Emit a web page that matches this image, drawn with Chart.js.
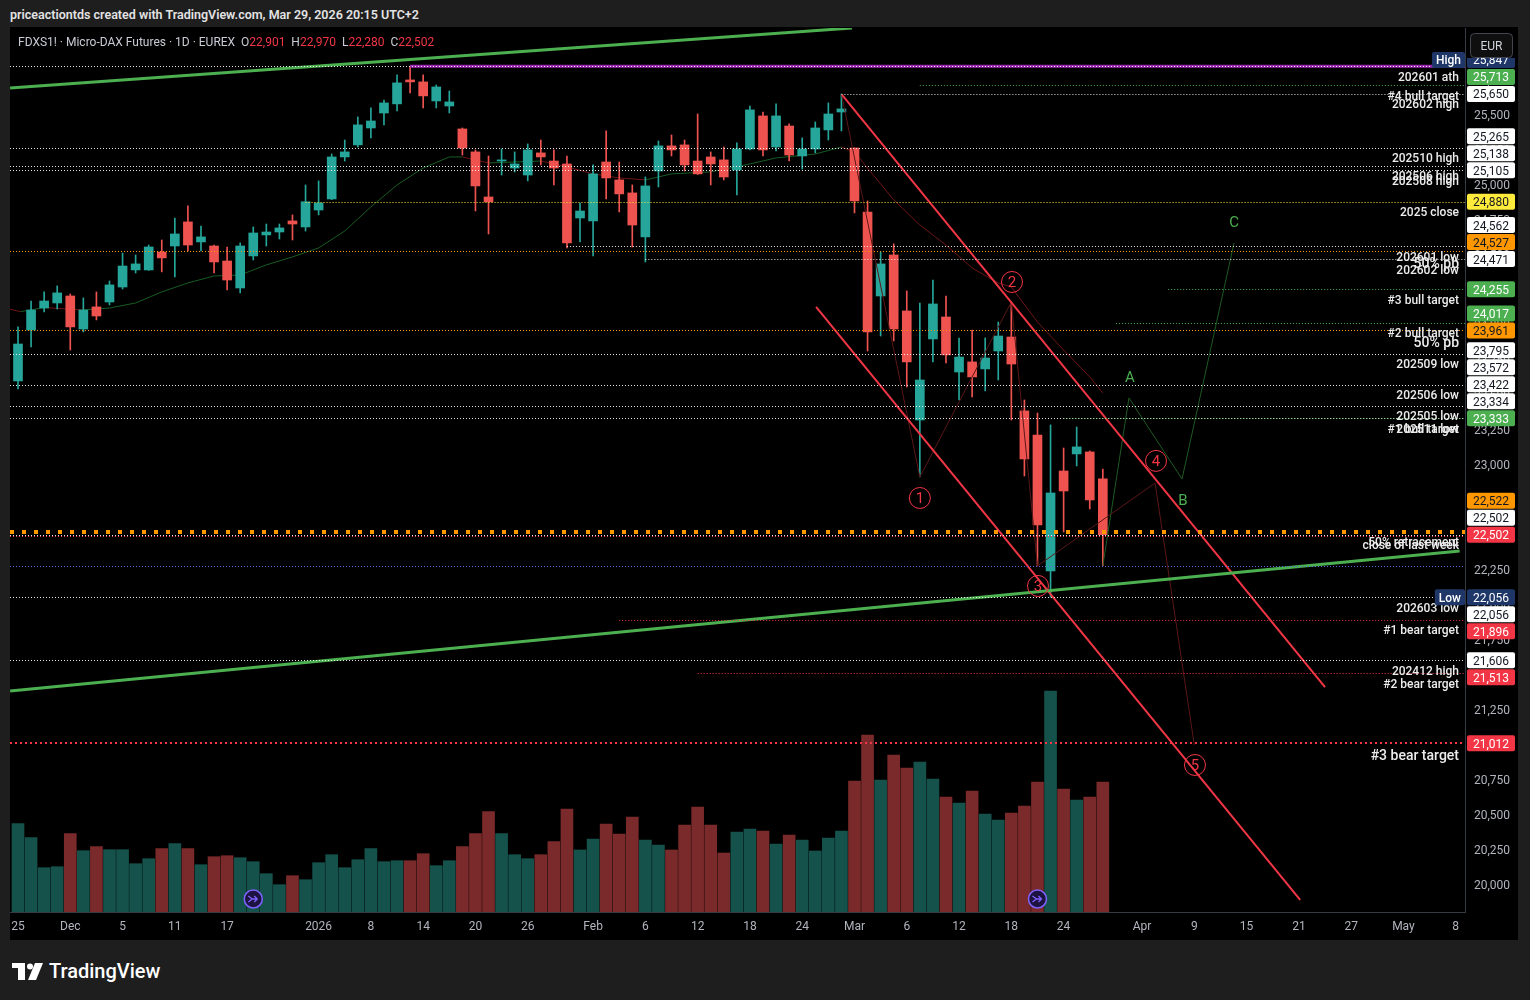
<!DOCTYPE html>
<html lang="en">
<head>
<meta charset="UTF-8">
<title>FDXS1! Micro-DAX Futures 1D</title>
<script src="https://cdn.jsdelivr.net/npm/chart.js"></script>
<style>
  html, body { margin: 0; padding: 0; width: 1530px; height: 1000px; overflow: hidden; background: #1e1e1e; font-family: Roboto, "Noto Sans", sans-serif; }
  #top { position: absolute; left: 10px; top: 7px; color: #e3e3e3; font-size: 12.5px; font-weight: 600; }
  #wrap { position: absolute; left: 10px; top: 27px; width: 1508px; height: 913px; background: #000; }
  #foot { position: absolute; left: 12px; top: 959px; display: flex; align-items: center; color: #fff; font-size: 20px; font-weight: 500; }
  #foot svg { margin-right: 6px; }
</style>
</head>
<body>
<div id="top">priceactiontds created with TradingView.com, Mar 29, 2026 20:15 UTC+2</div>
<div id="wrap"><canvas id="chart" width="1508" height="913"></canvas></div>
<div id="foot">
  <svg width="31" height="17" viewBox="0 0 31 17"><rect x="0" y="0" width="13" height="5" fill="#fff"/><rect x="6" y="0" width="7" height="17" fill="#fff"/><circle cx="18" cy="3.5" r="3" fill="#fff"/><polygon points="23,0 31,0 24,17 16,17" fill="#fff"/></svg>
  <span>TradingView</span>
</div>

<script>
// daily candles, index 0 = 2025-11-25 ... index 83 = 2026-03-27
const opens = [23600, 23964, 24121, 24157, 24207, 23971, 24129, 24164, 24271, 24393,
  24393, 24521, 24564, 24736, 24593, 24564, 24457, 24264, 24493, 24643,
  24664, 24743, 24700, 24821, 24900, 25200, 25286, 25407, 25514, 25579,
  25750, 25736, 25600, 25564, 25400, 25236, 24914, 25171, 25121, 25071,
  25229, 25171, 25150, 24764, 24743, 25164, 25036, 24943, 24629, 25100,
  25279, 25286, 25171, 25200, 25179, 25107, 25257, 25493, 25271, 25421,
  25207, 25257, 25393, 25521, 25264, 24807, 24207, 24500, 24100, 23321,
  23900, 24057, 23664, 23736, 23686, 23814, 23914, 23386, 23214, 22243,
  22957, 23079, 23093, 22901];
const highs = [23986, 24171, 24236, 24279, 24221, 24193, 24236, 24314, 24514, 24500,
  24571, 24607, 24764, 24850, 24707, 24571, 24557, 24586, 24700, 24721,
  24721, 24786, 25000, 25029, 25221, 25321, 25486, 25550, 25607, 25786,
  25847, 25786, 25714, 25671, 25407, 25250, 25207, 25257, 25236, 25293,
  25321, 25250, 25207, 24871, 25143, 25386, 25164, 25000, 25057, 25314,
  25357, 25321, 25507, 25236, 25271, 25300, 25564, 25521, 25579, 25436,
  25336, 25450, 25586, 25650, 25264, 24886, 24521, 24579, 24243, 24157,
  24321, 24207, 23907, 23964, 23907, 24021, 24164, 23464, 23371, 23286,
  23121, 23271, 23100, 22970];
const lows = [23543, 23843, 24093, 24114, 23821, 23950, 24036, 24143, 24257, 24371,
  24390, 24379, 24343, 24529, 24529, 24371, 24250, 24229, 24464, 24564,
  24614, 24607, 24671, 24786, 24895, 25171, 25271, 25336, 25429, 25529,
  25657, 25550, 25550, 25514, 25214, 24814, 24650, 25071, 25093, 25029,
  25143, 25000, 24550, 24593, 24493, 24900, 24807, 24557, 24450, 24986,
  25207, 25100, 25075, 25000, 25036, 24929, 25250, 25207, 25243, 25171,
  25114, 25229, 25321, 25386, 24800, 23814, 23921, 23886, 23557, 22914,
  23736, 23729, 23464, 23486, 23529, 23607, 23321, 22921, 22279, 22056,
  22521, 22993, 22686, 22280];
const closes = [23864, 24107, 24171, 24229, 23986, 24107, 24064, 24286, 24421, 24436,
  24557, 24479, 24650, 24571, 24629, 24450, 24321, 24564, 24657, 24664,
  24693, 24721, 24880, 24871, 25200, 25236, 25429, 25457, 25586, 25729,
  25736, 25636, 25700, 25593, 25264, 24993, 24879, 25179, 25150, 25250,
  25200, 25121, 24586, 24814, 25079, 25050, 24936, 24714, 24993, 25279,
  25250, 25143, 25079, 25150, 25057, 25257, 25536, 25250, 25493, 25214,
  25257, 25407, 25507, 25543, 24886, 23950, 24436, 23971, 23736, 23607,
  24150, 23786, 23771, 23629, 23764, 23921, 23721, 23043, 22571, 22800,
  22814, 23129, 22750, 22502];
const volumes = [8830, 7430, 4430, 4530, 7830, 6130, 6530, 6230, 6230, 4830,
  5330, 6330, 6830, 6330, 4730, 5530, 5630, 5430, 5030, 3830,
  2730, 3630, 3230, 4930, 5730, 4430, 5230, 6330, 5030, 5130,
  5130, 5830, 4630, 5130, 6530, 7830, 10030, 7830, 5730, 5330,
  5730, 7030, 10300, 6200, 7300, 8800, 7800, 9500, 7200, 6700,
  6200, 8700, 10500, 8700, 5900, 8000, 8300, 8100, 6800, 7700,
  7200, 6100, 7400, 8100, 13100, 17700, 13200, 15700, 14400, 15000,
  13300, 11500, 10900, 12100, 9800, 9200, 9900, 10600, 13000, 22100,
  12300, 11200, 11500, 13000];

// moving average
const emaIdx = [-0.7, 0.2, 2, 5, 7, 9, 11, 13, 15, 17, 19, 21, 23, 25, 27, 29, 31, 33, 34, 36,
  38, 40, 42, 44, 46, 48, 50, 53, 56, 58, 61, 63, 64, 65, 67, 69, 71, 73, 75, 76, 78, 80, 82, 83];
const emaVal = [24114, 24095, 24124, 24107, 24121, 24157, 24236, 24300, 24350, 24357, 24429, 24486,
  24550, 24671, 24843, 25000, 25121, 25200, 25200, 25157, 25164, 25171, 25129, 25079, 25050, 25036,
  25079, 25093, 25150, 25193, 25221, 25271, 25236, 25121, 24893, 24714, 24571, 24407, 24300, 24271,
  24021, 23821, 23629, 23514];

// x axis: trading-day index -> label
const tickIdx = [0, 4, 8, 12, 16, 23, 27, 31, 35, 39, 44, 48, 52, 56, 60, 64, 68, 72, 76, 80,
  86, 90, 94, 98, 102, 106, 110];
const tickText = ['25', 'Dec', '5', '11', '17', '2026', '8', '14', '20', '26', 'Feb', '6', '12', '18', '24',
  'Mar', '6', '12', '18', '24', 'Apr', '9', '15', '21', '27', 'May', '8'];

// horizontal levels
const levelPrice = [25847, 25713, 25650, 25265, 25138, 25105, 24880, 24562, 24527, 24471,
  24255, 24017, 23961, 23795, 23572, 23422, 23334, 23333, 22522, 22502,
  22056, 21896, 21606, 21513, 21012];
const levelLabel = ['202601 ath', '#4 bull target', '202602 high', '202510 high', '202506 high', '202508 high',
  '2025 close', '202601 low', '50% pb', '202602 low', '#3 bull target', '#2 bull target', '50% pb',
  '202509 low', '202506 low', '202505 low', '202511 low', '#1 bull target', '50% retracement',
  'close of last week', '202603 low', '#1 bear target', '202412 high', '#2 bear target', '#3 bear target'];
const levelKind = ['ref', 'bull', 'ref', 'ref', 'ref', 'ref', 'close', 'ref', 'pb', 'ref',
  'bull', 'bull', 'pb', 'ref', 'ref', 'ref', 'ref', 'bull', 'retr', 'ref',
  'ref', 'bear', 'ref', 'bear', 'bear'];
const levelStart = [-1, 69, 63, -1, -1, -1, 22, 42, -1, 48,
  88, 84, -1, -1, -1, -1, -1, 80, -1, -1,
  -1, 46, -1, 52, -1];

// drawings: [index, price]
const greenUpper = [[-0.6, 25693], [63.8, 26121]];
const greenLower = [[-0.6, 21386], [110.3, 22386]];
const channelUpper = [[63.05, 25643], [100, 21414]];
const channelLower = [[61.06, 24129], [98.1, 19893]];
const waveIdx = [63, 69, 76, 78, 87, 90];
const waveVal = [25650, 22914, 24164, 22279, 22871, 21000];
const waveMarkIdx = [69, 76.05, 78.04, 87.07, 90.05];
const waveMarkVal = [22764, 24307, 22136, 23029, 20857];
const waveMarkText = ['1', '2', '3', '4', '5'];
const abcIdx = [83, 85, 89.06, 93.04];
const abcVal = [22280, 23479, 22900, 24586];
const abcMarkIdx = [85.07, 89.13, 93.04];
const abcMarkVal = [23629, 22750, 24736];
const abcMarkText = ['A', 'B', 'C'];
const rollIdx = [18, 78];

// ---- styles ----
const TEAL = '#26a69a', RED = '#ef5350', LINE_RED = '#f23645';
const VOL_TEAL = '#16524c', VOL_RED = '#7a2a2a';
const GREEN = '#4caf50';
const kindStyle = {
  ref:   { line: 'rgba(255,255,255,0.9)', width: 1, dash: [1, 2], box: '#ffffff', text: '#131722' },
  bull:  { line: GREEN, width: 1, dash: [1, 2], box: GREEN, text: '#ffffff' },
  bear:  { line: LINE_RED, width: 1, dash: [1, 2], box: LINE_RED, text: '#ffffff' },
  pb:    { line: '#ff9800', width: 1, dash: [1, 2], box: '#ff9800', text: '#131722' },
  close: { line: '#ffeb3b', width: 1, dash: [1, 2], box: '#ffeb3b', text: '#131722' },
  retr:  { line: '#ff9800', width: 4, dash: [4, 8], box: '#ff9800', text: '#131722' }
};
const bigLabels = ['50% pb', '#3 bear target'];
const wideLevels = ['#3 bear target'];
const HL_BLUE = '#1e3768';
const FONT = 'Roboto, "Noto Sans", sans-serif';

const n = closes.length;
const last = n - 1;
const isUp = i => closes[i] >= opens[i];
const fmt = v => v.toLocaleString('en-US');
const maxHigh = Math.max(...highs), athIdx = highs.indexOf(maxHigh);
const minLow = Math.min(...lows);
const pts = arr => arr.map(p => ({ x: p[0], y: p[1] }));
const zipPts = (a, b) => a.map((v, i) => ({ x: v, y: b[i] }));

function dotted(ctx, x0, x1, y, color, w, dash) {
  ctx.strokeStyle = color;
  ctx.lineWidth = w;
  ctx.setLineDash(dash);
  ctx.beginPath();
  ctx.moveTo(x0, y);
  ctx.lineTo(x1, y);
  ctx.stroke();
}

const overlay = {
  id: 'overlay',
  afterDatasetsDraw(chart) {
    const { ctx, chartArea: ca, scales } = chart;
    const px = v => scales.x.getPixelForValue(v);
    const py = v => scales.y.getPixelForValue(v);
    const snap = v => Math.round(v) + 0.5;

    ctx.save();
    ctx.beginPath();
    ctx.rect(ca.left, ca.top, ca.right - ca.left, ca.bottom - ca.top);
    ctx.clip();

    // last bar low + current price
    dotted(ctx, ca.left, ca.right, snap(py(lows[last])), '#5b6bd6', 1, [1, 2]);
    dotted(ctx, ca.left, ca.right, snap(py(closes[last]) + 1), LINE_RED, 1, [1, 2]);

    levelPrice.forEach((p, i) => {
      const st = kindStyle[levelKind[i]];
      const wide = wideLevels.includes(levelLabel[i]);
      const w = wide ? 2 : st.width;
      const y = w % 2 ? snap(py(p)) : Math.round(py(p));
      dotted(ctx, Math.max(ca.left, px(levelStart[i])), ca.right, y, st.line, w, wide ? [2, 3] : st.dash);
    });
    ctx.setLineDash([]);

    ctx.textAlign = 'right';
    ctx.textBaseline = 'middle';
    ctx.fillStyle = '#ececec';
    levelPrice.forEach((p, i) => {
      const big = bigLabels.includes(levelLabel[i]);
      ctx.font = (big ? '500 14px ' : '500 12px ') + FONT;
      ctx.fillText(levelLabel[i], ca.right - 6, py(p) + (big ? 13 : 11.5));
    });

    // wave count circles
    ctx.textAlign = 'center';
    ctx.font = '15px ' + FONT;
    waveMarkIdx.forEach((v, i) => {
      const x = px(v), y = py(waveMarkVal[i]);
      ctx.strokeStyle = LINE_RED;
      ctx.lineWidth = 1;
      ctx.beginPath();
      ctx.arc(x, y, 10.5, 0, Math.PI * 2);
      ctx.stroke();
      ctx.fillStyle = LINE_RED;
      ctx.fillText(waveMarkText[i], x, y + 1.5);
    });
    ctx.fillStyle = GREEN;
    abcMarkIdx.forEach((v, i) => ctx.fillText(abcMarkText[i], px(v), py(abcMarkVal[i]) + 1.5));

    // contract roll markers
    rollIdx.forEach(v => {
      const x = px(v), y = ca.bottom - 13;
      ctx.fillStyle = '#1d1340';
      ctx.strokeStyle = '#7f62ff';
      ctx.lineWidth = 1.5;
      ctx.beginPath();
      ctx.arc(x, y, 9, 0, Math.PI * 2);
      ctx.fill();
      ctx.stroke();
      ctx.lineWidth = 1.3;
      ctx.beginPath();
      ctx.moveTo(x - 5, y - 3); ctx.lineTo(x - 1, y); ctx.lineTo(x - 5, y + 3);
      ctx.moveTo(x - 1, y); ctx.lineTo(x + 4, y);
      ctx.moveTo(x + 1, y - 3); ctx.lineTo(x + 4, y); ctx.lineTo(x + 1, y + 3);
      ctx.stroke();
    });
    ctx.restore();

    // symbol header
    ctx.save();
    ctx.font = '12px ' + FONT;
    ctx.textAlign = 'left';
    ctx.textBaseline = 'middle';
    const parts = [
      ['FDXS1! \u00b7 Micro-DAX Futures \u00b7 1D \u00b7 EUREX  ', '#c9ccd4'],
      ['O', '#c9ccd4'], [fmt(opens[last]), LINE_RED],
      ['  H', '#c9ccd4'], [fmt(highs[last]), LINE_RED],
      ['  L', '#c9ccd4'], [fmt(lows[last]), LINE_RED],
      ['  C', '#c9ccd4'], [fmt(closes[last]), LINE_RED]
    ];
    let hx = ca.left + 8;
    parts.forEach(([t, c]) => {
      ctx.fillStyle = c;
      ctx.fillText(t, hx, ca.top + 14.5);
      hx += ctx.measureText(t).width;
    });

    // price axis tags
    const H = 17;
    const items = [{ price: maxHigh, box: HL_BLUE, text: '#ffffff', tag: 'High' },
                   { price: minLow, box: HL_BLUE, text: '#ffffff', tag: 'Low' }];
    levelPrice.forEach((p, i) => {
      const st = kindStyle[levelKind[i]];
      items.push({ price: p, box: st.box, text: st.text });
    });
    items.forEach(b => { b.y = py(b.price); });
    const anchorY = py(closes[last]);
    let lim = anchorY - H;
    items.filter(b => b.y <= anchorY).sort((a, b) => b.y - a.y).forEach(b => {
      b.py = Math.min(b.y, lim); lim = b.py - H;
    });
    lim = anchorY + H;
    items.filter(b => b.y > anchorY).sort((a, b) => a.y - b.y).forEach(b => {
      b.py = Math.max(b.y, lim); lim = b.py + H;
    });
    items.push({ price: closes[last], box: LINE_RED, text: '#ffffff', py: anchorY });

    ctx.textAlign = 'center';
    items.forEach(b => {
      ctx.fillStyle = b.box;
      ctx.beginPath();
      ctx.roundRect(ca.right + 2, b.py - 8, 48, 16, 2);
      ctx.fill();
      ctx.fillStyle = b.text;
      ctx.fillText(fmt(b.price), ca.right + 26, b.py + 1.5);
      if (b.tag) {
        ctx.font = '500 12px ' + FONT;
        const w = ctx.measureText(b.tag).width + 8;
        ctx.fillStyle = b.box;
        ctx.beginPath();
        ctx.roundRect(ca.right - w, b.py - 8, w, 16, 2);
        ctx.fill();
        ctx.fillStyle = b.text;
        ctx.fillText(b.tag, ca.right - w / 2, b.py + 1.5);
        ctx.font = '12px ' + FONT;
      }
    });

    // currency button
    ctx.fillStyle = '#000';
    ctx.fillRect(ca.right + 1, 0, 60, ca.top + 30);
    ctx.fillStyle = '#0f0f0f';
    ctx.strokeStyle = '#434651';
    ctx.lineWidth = 1;
    ctx.beginPath();
    ctx.roundRect(ca.right + 5.5, 6.5, 42, 24, 4);
    ctx.fill();
    ctx.stroke();
    ctx.fillStyle = '#d1d4dc';
    ctx.fillText('EUR', ca.right + 26.5, 20);
    ctx.restore();
  }
};

const chart = new Chart(document.getElementById('chart'), {
  type: 'bar',
  data: {
    datasets: [
      { type: 'line', data: [{ x: athIdx, y: maxHigh }, { x: 111, y: maxHigh }], borderColor: '#9c27b0',
        borderWidth: 3, pointRadius: 0, order: 1 },
      { type: 'line', data: pts(greenUpper), borderColor: GREEN, borderWidth: 3, pointRadius: 0, order: 1 },
      { type: 'line', data: pts(greenLower), borderColor: GREEN, borderWidth: 3, pointRadius: 0, order: 1 },
      { type: 'line', data: pts(channelUpper), borderColor: LINE_RED, borderWidth: 2, pointRadius: 0, order: 1 },
      { type: 'line', data: pts(channelLower), borderColor: LINE_RED, borderWidth: 2, pointRadius: 0, order: 1 },
      { type: 'line', data: zipPts(waveIdx, waveVal), borderColor: '#5a1717', borderWidth: 1, pointRadius: 0, order: 2 },
      { type: 'line', data: zipPts(abcIdx, abcVal), borderColor: '#1d5a23', borderWidth: 1, pointRadius: 0, order: 2 },
      { type: 'bar', data: closes.map((c, i) => ({ x: i, y: [Math.min(opens[i], c), Math.max(opens[i], c)] })),
        backgroundColor: c => isUp(c.dataIndex) ? TEAL : RED, barThickness: 9, minBarLength: 1,
        grouped: false, borderWidth: 0, order: 3 },
      { type: 'bar', data: closes.map((c, i) => ({ x: i, y: [lows[i], highs[i]] })),
        backgroundColor: c => isUp(c.dataIndex) ? TEAL : RED, barThickness: 1,
        grouped: false, borderWidth: 0, order: 4 },
      { type: 'line', data: zipPts(emaIdx, emaVal), borderWidth: 1, pointRadius: 0, order: 5,
        borderColor: '#175c22',
        segment: { borderColor: c => c.p1.parsed.y >= c.p0.parsed.y ? '#175c22' : '#6e1414' } },
      { type: 'bar', yAxisID: 'vol', data: volumes.map((v, i) => ({ x: i, y: v })),
        backgroundColor: c => isUp(c.dataIndex) ? VOL_TEAL : VOL_RED, barThickness: 12,
        grouped: false, borderWidth: 0, order: 6 }
    ]
  },
  options: {
    responsive: false,
    animation: false,
    devicePixelRatio: 1,
    layout: { padding: { top: 1, left: 0, right: 0, bottom: 0 } },
    plugins: { legend: { display: false }, tooltip: { enabled: false } },
    scales: {
      x: {
        type: 'linear', min: -0.612, max: 110.71, offset: false,
        grid: { display: false, drawTicks: false },
        border: { color: '#363a45' },
        ticks: { autoSkip: false, maxRotation: 0, padding: 8, color: '#b2b5be', font: { family: FONT, size: 12 },
          callback: v => tickText[tickIdx.indexOf(v)] ?? '' },
        afterBuildTicks: s => { s.ticks = tickIdx.map(v => ({ value: v })); },
        afterFit: s => { s.height = 28; s.paddingLeft = 0; s.paddingRight = 0; }
      },
      y: {
        type: 'linear', position: 'right', min: 19807, max: 26121,
        grid: { display: false, drawTicks: false },
        border: { color: '#363a45' },
        ticks: { stepSize: 250, includeBounds: false, padding: 9, labelOffset: 1.5, color: '#b2b5be',
          font: { family: FONT, size: 12 }, callback: v => fmt(v) },
        afterFit: s => { s.width = 53; s.paddingTop = 0; s.paddingBottom = 0; }
      },
      vol: { type: 'linear', display: false, min: 0, max: 88400 }
    }
  },
  plugins: [overlay]
});
</script>
</body>
</html>
